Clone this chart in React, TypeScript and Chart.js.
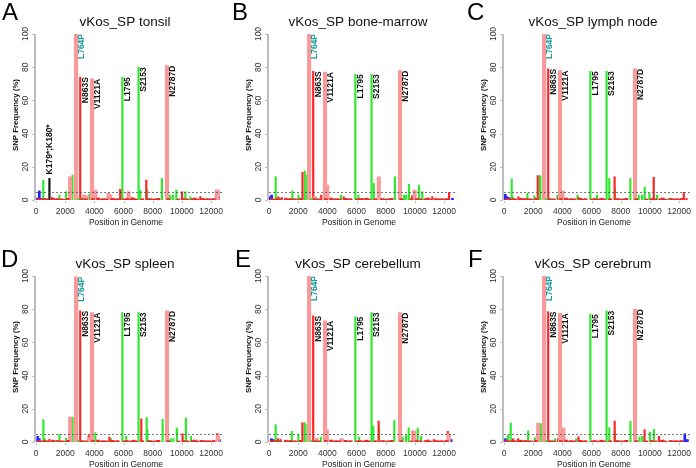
import React, { useEffect, useRef } from "react";
import { Chart, registerables } from "chart.js";
Chart.register(...registerables);

const FONT = '"Liberation Sans", Arial, Helvetica, sans-serif';

// ---------- axes ----------
const xTickValues = [0, 2000, 4000, 6000, 8000, 10000, 12000];
const yTickValues = [0, 20, 40, 60, 80, 100];
const genomeMax = 12750;
const thresholdLine = 5;

// ---------- labelled variants (shared positions) ----------
const variantLabels = ["L764P", "N863S", "V1121A", "L1795", "S2153", "N2787D"];
const variantPositions = [2750, 3030, 3840, 5920, 7030, 8980];
const variantKinds = ["p", "r", "p", "g", "g", "p"];

const tonsilVariantFreq = [100, 74, 73, 74, 80, 81];
const boneMarrowVariantFreq = [100, 77.5, 77, 75.7, 75.7, 78];
const lymphNodeVariantFreq = [100, 79, 78, 77.5, 77.5, 79];
const spleenVariantFreq = [99.5, 79, 78, 78, 78, 79];
const cerebellumVariantFreq = [100, 76, 73, 75.5, 78, 78];
const cerebrumVariantFreq = [100, 78.5, 77.5, 77, 79, 80];

// ---------- minor variants per tissue ----------
const tonsilMinorPos = [100, 230, 400, 500, 920, 1080, 1600, 2060, 2340, 2500, 2680, 3300, 3480, 3660, 3760, 4060, 4970, 5080, 5770, 5885, 6340, 6570, 7145, 7560, 7600, 8630, 9200, 9390, 9620, 10010, 10240, 10580, 11270, 12370, 12460, 12530];
const tonsilMinorFreq = [1.2, 5.5, 1.0, 12, 13, 1.5, 3, 5, 14, 15, 13, 3, 2.5, 3.6, 2, 6, 4, 3, 6.5, 2, 5, 1.5, 6, 12, 6.5, 13, 3, 3, 6, 5, 5, 2, 2, 6, 6, 2];
const tonsilMinorKind = "bbbgkrggpggppgrppprgprgrgggggrggrrpb";

const boneMarrowMinorPos = [80, 184, 459, 642, 872, 1606, 2019, 2295, 2455, 2616, 3150, 3580, 3993, 4934, 5116, 6126, 6400, 7182, 7526, 8628, 9247, 9408, 9592, 9800, 9981, 10280, 10509, 11197, 12344, 12574];
const boneMarrowMinorFreq = [2, 3, 14, 2, 1.5, 5.5, 3, 16.7, 17.5, 15, 2, 3, 9, 3, 2, 3, 1, 10, 14, 14, 3, 3, 9.5, 2.5, 6, 9, 5, 2, 4.5, 1];
const boneMarrowMinorKind = "bbgrrggrggprpgrgrgpggggrpggrrb";

const lymphNodeMinorPos = [92, 200, 350, 527, 600, 985, 1604, 2085, 2314, 2474, 2657, 3665, 3720, 4009, 5040, 5100, 6369, 7216, 7583, 7600, 8660, 9233, 9462, 9645, 9966, 10263, 10492, 11300, 12325, 12508];
const lymphNodeMinorFreq = [3.4, 2, 1.5, 12.7, 2, 2, 4, 2.5, 14.7, 14.7, 14, 3, 2, 5.4, 3, 1.5, 3, 13, 14, 6.4, 13, 3, 3, 7.6, 4, 13.7, 3, 1, 4.6, 1];
const lymphNodeMinorKind = "bbbggrggrgggrpgrggrggggggrggrrb".slice(0, 30);

const spleenMinorPos = [115, 230, 506, 600, 920, 1609, 2069, 2345, 2506, 2667, 3609, 3680, 4069, 5034, 5150, 6184, 7218, 7586, 7632, 8680, 9241, 9420, 9655, 10046, 10276, 10621, 11300, 12414, 12460, 12575];
const spleenMinorFreq = [3.4, 2, 13.5, 2, 1.6, 4.6, 2.4, 15, 15, 14.5, 4, 2.6, 5.6, 3, 2, 3.4, 14, 14.7, 7.4, 13.7, 2, 2, 8.4, 5, 14.5, 3.4, 1, 5.2, 5, 1.5];
const spleenMinorKind = "bbggrggpggrpgrggrggggggrggrrpb".slice(0, 30);

const cerebellumMinorPos = [160, 300, 458, 620, 800, 1558, 2016, 2290, 2451, 2634, 3200, 3300, 3551, 3963, 4971, 5000, 6185, 7148, 7514, 7540, 8591, 9164, 9393, 9576, 9851, 9965, 10195, 10424, 11300, 12257, 12325, 12486];
const cerebellumMinorFreq = [2, 1.5, 10.4, 2, 1.5, 6.4, 4.4, 11.6, 11.6, 10.6, 2, 2, 3, 7.4, 2, 2, 3, 9.6, 12.6, 8, 13, 3, 4, 8.6, 6.6, 6.6, 8.4, 3.4, 1.5, 6.4, 5, 1.5];
const cerebellumMinorKind = "bbgrrggrggprgppgggrgggggrpggrrpb";

const cerebrumMinorPos = [100, 276, 460, 620, 966, 1655, 2115, 2345, 2506, 2644, 3500, 3700, 4069, 4950, 5103, 7218, 7586, 7600, 8667, 9287, 9471, 9632, 10000, 10276, 10621, 12391, 12575];
const cerebrumMinorFreq = [2, 4, 11.4, 2, 2, 6.6, 2.6, 11.4, 11, 11.4, 2, 2, 8.4, 2, 3.2, 8.6, 12.6, 6, 12.4, 3, 3.4, 7.4, 6, 7.6, 3.4, 5, 1.5];
const cerebrumMinorKind = "bggrrggpgggrpgrgrggggrggrb".padEnd(27, "b");

// ---------- low-level background calls ----------
const baselineRedPos = [180, 330, 560, 760, 1150, 1320, 1480, 1720, 1880, 2180, 3140, 3420, 3900, 4250, 4420, 4630, 4820, 5230, 5420, 5600, 6050, 6230, 6480, 6680, 6850, 7280, 7750, 7980, 8200, 8400, 9080, 9760, 10120, 10380, 10720, 10880, 11080, 11420, 11620, 11820, 12020, 12180];
const baselineRedFreq = [0.8, 0.6, 0.9, 0.7, 1.1, 0.6, 0.9, 0.7, 0.6, 1.0, 0.8, 0.7, 0.9, 1.2, 0.6, 0.8, 0.7, 1.0, 0.6, 0.8, 0.7, 0.9, 0.6, 1.1, 0.7, 0.8, 0.9, 0.6, 0.7, 1.0, 0.8, 0.6, 0.9, 0.7, 0.8, 1.2, 0.6, 0.9, 0.7, 0.8, 0.6, 0.9];
const baselineGreenPos = [720, 1380, 2900, 3260, 4520, 5320, 6620, 7900, 8320, 9000, 10800, 11500];
const baselineGreenFreq = [0.8, 0.7, 1.0, 0.8, 0.7, 0.9, 0.6, 0.8, 1.0, 0.7, 0.8, 0.6];

const kindStyle: Record<string, { color: string; thickness: number }> = {
  n: { color: "#e82a2a", thickness: 3 },
  m: { color: "#2ee82e", thickness: 1.5 },
  p: { color: "#f89a9a", thickness: 3.5 },
  r: { color: "#ff2424", thickness: 1.5 },
  g: { color: "#2ee82e", thickness: 1.5 },
  b: { color: "#2323ff", thickness: 2 },
  k: { color: "#111111", thickness: 1.5 },
};
const drawOrder = ["n", "m", "p", "r", "g", "b", "k"];

type PanelCfg = {
  letter: string;
  title: string;
  variantFreq: number[];
  minorPos: number[];
  minorFreq: number[];
  minorKind: string;
  left: number;
  top: number;
  padL: number;
  padR: number;
  row: number;
  letterX: number;
  extraLabel?: { text: string; index: number };
};

const CW = 232;
const CH = 234;

const panels: PanelCfg[] = [
  { letter: "A", title: "vKos_SP tonsil", variantFreq: tonsilVariantFreq, minorPos: tonsilMinorPos, minorFreq: tonsilMinorFreq, minorKind: tonsilMinorKind, left: 0, top: 0, padL: 36, padR: 10, row: 0, letterX: 2, extraLabel: { text: "K179*;K180*", index: 4 } },
  { letter: "B", title: "vKos_SP bone-marrow", variantFreq: boneMarrowVariantFreq, minorPos: boneMarrowMinorPos, minorFreq: boneMarrowMinorFreq, minorKind: boneMarrowMinorKind, left: 232, top: 0, padL: 37, padR: 9, row: 0, letterX: 0 },
  { letter: "C", title: "vKos_SP lymph node", variantFreq: lymphNodeVariantFreq, minorPos: lymphNodeMinorPos, minorFreq: lymphNodeMinorFreq, minorKind: lymphNodeMinorKind, left: 464, top: 0, padL: 40, padR: 6, row: 0, letterX: 3 },
  { letter: "D", title: "vKos_SP spleen", variantFreq: spleenVariantFreq, minorPos: spleenMinorPos, minorFreq: spleenMinorFreq, minorKind: spleenMinorKind, left: 0, top: 234, padL: 36, padR: 10, row: 1, letterX: 1 },
  { letter: "E", title: "vKos_SP cerebellum", variantFreq: cerebellumVariantFreq, minorPos: cerebellumMinorPos, minorFreq: cerebellumMinorFreq, minorKind: cerebellumMinorKind, left: 232, top: 234, padL: 37, padR: 9, row: 1, letterX: 3 },
  { letter: "F", title: "vKos_SP cerebrum", variantFreq: cerebrumVariantFreq, minorPos: cerebrumMinorPos, minorFreq: cerebrumMinorFreq, minorKind: cerebrumMinorKind, left: 464, top: 234, padL: 40, padR: 6, row: 1, letterX: 4 },
];

function buildDatasets(cfg: PanelCfg) {
  const pts: Record<string, { x: number; y: number }[]> = {};
  drawOrder.forEach((k) => (pts[k] = []));
  baselineRedPos.forEach((x, i) => pts.n.push({ x, y: baselineRedFreq[i] }));
  baselineGreenPos.forEach((x, i) => pts.m.push({ x, y: baselineGreenFreq[i] }));
  cfg.minorPos.forEach((x, i) => {
    const k = cfg.minorKind[i] || "r";
    pts[k].push({ x, y: cfg.minorFreq[i] });
  });
  variantPositions.forEach((x, i) => pts[variantKinds[i]].push({ x, y: cfg.variantFreq[i] }));
  return drawOrder.map((k) => ({
    data: pts[k].sort((a, b) => a.x - b.x),
    backgroundColor: kindStyle[k].color,
    barThickness: kindStyle[k].thickness,
    maxBarThickness: kindStyle[k].thickness,
    grouped: false,
    borderWidth: 0,
  }));
}

function makeDecor(cfg: PanelCfg) {
  return {
    id: "decor" + cfg.letter,
    afterDatasetsDraw(chart: any) {
      const ctx: CanvasRenderingContext2D = chart.ctx;
      const ca = chart.chartArea;
      const xs = chart.scales.x;
      const ys = chart.scales.y;
      ctx.save();

      // threshold dashed line
      const ty = Math.round(ys.getPixelForValue(thresholdLine)) + 0.5;
      ctx.strokeStyle = "#555";
      ctx.lineWidth = 0.8;
      ctx.setLineDash([2, 2]);
      ctx.beginPath();
      ctx.moveTo(ca.left, ty);
      ctx.lineTo(ca.right, ty);
      ctx.stroke();
      ctx.setLineDash([]);

      // y axis line + ticks
      ctx.strokeStyle = "#bdbdbd";
      ctx.lineWidth = 2;
      ctx.beginPath();
      ctx.moveTo(ca.left - 1, ys.getPixelForValue(0));
      ctx.lineTo(ca.left - 1, ys.getPixelForValue(100));
      ctx.stroke();
      ctx.lineWidth = 1;
      yTickValues.forEach((v) => {
        const y = Math.round(ys.getPixelForValue(v)) + 0.5;
        ctx.beginPath();
        ctx.moveTo(ca.left - 4, y);
        ctx.lineTo(ca.left - 1, y);
        ctx.stroke();
      });
      // x ticks
      xTickValues.forEach((v) => {
        const x = Math.round(xs.getPixelForValue(v)) + 0.5;
        ctx.beginPath();
        ctx.moveTo(x, ca.bottom + 1);
        ctx.lineTo(x, ca.bottom + 3);
        ctx.stroke();
      });

      // y tick labels (rotated)
      ctx.fillStyle = "#333";
      ctx.font = `8.5px ${FONT}`;
      ctx.textAlign = "center";
      ctx.textBaseline = "middle";
      yTickValues.forEach((v) => {
        const y = ys.getPixelForValue(v);
        ctx.save();
        ctx.translate(ca.left - 10, y);
        ctx.rotate(-Math.PI / 2);
        ctx.fillText(String(v), 0, 0);
        ctx.restore();
      });

      // x tick labels
      ctx.textBaseline = "alphabetic";
      xTickValues.forEach((v) => {
        ctx.fillText(String(v), xs.getPixelForValue(v), ca.bottom + 14);
      });

      const cx = (ca.left + ca.right) / 2;
      // x title
      ctx.fillStyle = "#222";
      ctx.fillText("Position in Genome", cx - 3, ca.bottom + 25);

      // y title
      ctx.save();
      ctx.translate(ca.left - 20, (ca.top + ca.bottom) / 2 - 2);
      ctx.rotate(-Math.PI / 2);
      ctx.font = `bold 7.8px ${FONT}`;
      ctx.fillStyle = "#111";
      ctx.textBaseline = "middle";
      ctx.fillText("SNP Frequency (%)", 0, 0);
      ctx.restore();

      // title
      ctx.font = `13.5px ${FONT}`;
      ctx.fillStyle = "#111";
      ctx.fillText(cfg.title, cx - 4, ca.top - 8.5);

      // panel letter
      ctx.font = `24px ${FONT}`;
      ctx.textAlign = "left";
      ctx.fillStyle = "#000";
      ctx.fillText(cfg.letter, cfg.letterX, cfg.row === 0 ? 20 : 33);

      // variant labels
      ctx.font = `bold 8.5px ${FONT}`;
      ctx.textBaseline = "middle";
      variantLabels.forEach((lab, i) => {
        const bx = xs.getPixelForValue(variantPositions[i]);
        const by = ys.getPixelForValue(cfg.variantFreq[i]);
        ctx.save();
        ctx.translate(bx + 5.5, by);
        ctx.rotate(-Math.PI / 2);
        ctx.textAlign = "right";
        ctx.fillStyle = i === 0 ? "#169c9c" : "#111";
        ctx.fillText(lab, 0, 0);
        ctx.restore();
      });

      if (cfg.extraLabel) {
        const idx = cfg.extraLabel.index;
        const bx = xs.getPixelForValue(cfg.minorPos[idx]);
        const by = ys.getPixelForValue(cfg.minorFreq[idx]);
        ctx.save();
        ctx.translate(bx + 0.5, by - 4);
        ctx.rotate(-Math.PI / 2);
        ctx.textAlign = "left";
        ctx.fillStyle = "#111";
        ctx.fillText(cfg.extraLabel.text, 0, 0);
        ctx.restore();
      }

      ctx.restore();
    },
  };
}

function Panel({ cfg }: { cfg: PanelCfg }) {
  const ref = useRef<HTMLCanvasElement | null>(null);
  useEffect(() => {
    if (!ref.current) return;
    const topPad = cfg.row === 0 ? 34 : 42;
    const chart = new Chart(ref.current, {
      type: "bar",
      data: { datasets: buildDatasets(cfg) as any },
      options: {
        animation: false,
        responsive: false,
        maintainAspectRatio: false,
        layout: { padding: { left: cfg.padL, right: cfg.padR, top: topPad, bottom: CH - topPad - 166 } },
        plugins: { legend: { display: false }, tooltip: { enabled: false }, title: { display: false } },
        scales: {
          x: { type: "linear", min: 0, max: genomeMax, offset: false, display: false },
          y: { type: "linear", min: 0, max: 100, display: false },
        },
      } as any,
      plugins: [makeDecor(cfg)],
    });
    return () => chart.destroy();
  }, []);
  return (
    <canvas
      ref={ref}
      width={CW}
      height={CH}
      style={{ position: "absolute", left: cfg.left, top: cfg.top, width: CW, height: CH }}
    />
  );
}

export default function App() {
  return (
    <div style={{ position: "fixed", left: 0, top: 0, width: 696, height: 468, background: "#fff", overflow: "hidden" }}>
      {panels.map((p) => (
        <Panel key={p.letter} cfg={p} />
      ))}
    </div>
  );
}
